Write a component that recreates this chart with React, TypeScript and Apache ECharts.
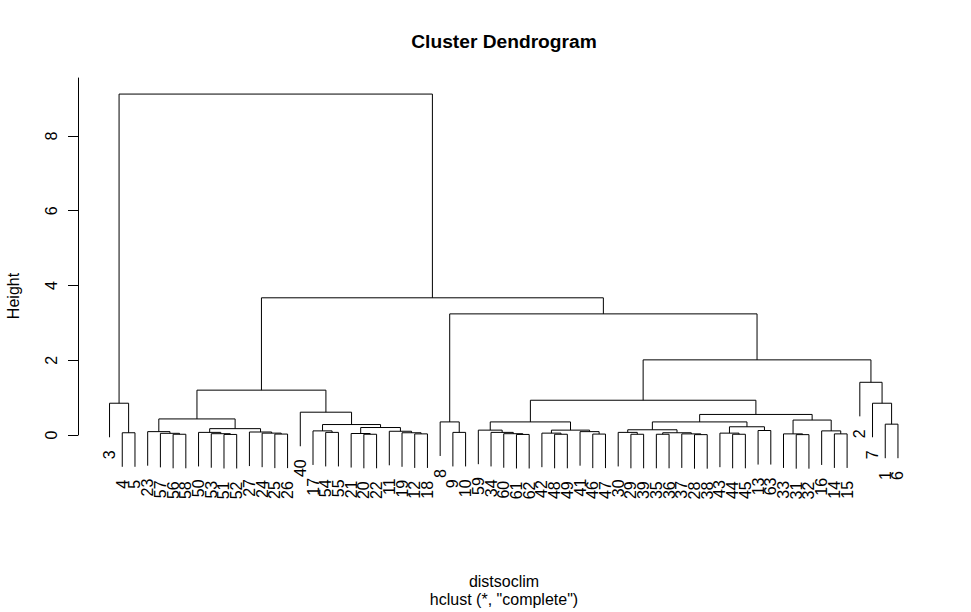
import React, { useEffect, useRef } from "react";
import * as echarts from "echarts";

// hclust merge matrix (R convention: negative = leaf label, positive = earlier merge index)
const mergeA = [-4, -3, -56, -57, -23, -51, -53, -50, -25, -24, -27, 8, 5, -54, -17, -20, -21, -12, -19, -11, 17, 15, -40, 13,
  -9, -8, -61, -60, -34, -59, -48, -42, -46, -41, 32, 30, -29, -30, -35, -28, -37, 39, 38, -44, -43, -13, 45, 43,
  -31, -33, -14, -16, 50, 48, 36, -1, -7, -2, 55, 26, 24, 2];
const mergeB = [-5, 1, -58, 3, 4, -52, 6, 7, -26, 9, 10, 11, 12, -55, 14, -22, 16, -18, 18, 19, 20, 21, 22, 23,
  -10, 25, -62, 27, 28, 29, -49, 31, -47, 33, 34, 35, -39, 37, -36, -38, 40, 41, 42, -45, 44, -63, 46, 47,
  -32, 49, -15, 51, 52, 53, 54, -6, 56, 57, 58, 59, 60, 61];
const mergeHeight = [0.06, 0.85, 0.02, 0.045, 0.09, 0.015, 0.035, 0.07, 0.025, 0.05, 0.08, 0.17, 0.43, 0.07, 0.11, 0.02, 0.04, 0.03, 0.06, 0.1, 0.2, 0.28, 0.61, 1.2,
  0.07, 0.35, 0.015, 0.035, 0.07, 0.13, 0.02, 0.05, 0.025, 0.09, 0.13, 0.35, 0.02, 0.07, 0.02, 0.01, 0.03, 0.06, 0.14, 0.02, 0.05, 0.12, 0.22, 0.35,
  0.01, 0.03, 0.03, 0.11, 0.4, 0.55, 0.93, 0.29, 0.85, 1.41, 2.01, 3.24, 3.67, 9.12];
const yTicks = [0, 2, 4, 6, 8];
const hangFraction = 0.1;

const FONT = '"Liberation Sans", Arial, Helvetica, sans-serif';

function buildTree() {
  const m = mergeA.length;
  const collect = (node: number): number[] =>
    node < 0 ? [-node] : [...collect(mergeA[node - 1]), ...collect(mergeB[node - 1])];
  const leafOrder = collect(m);
  const pos: Record<number, number> = {};
  leafOrder.forEach((lab, i) => (pos[lab] = i));
  const hMax = Math.max(...mergeHeight);
  const hMin = Math.min(...mergeHeight);
  const hang = hangFraction * (hMax - hMin);
  const mergeX: number[] = [];
  const segs: number[][] = [];
  const leaves: number[][] = [];
  const nodeX = (node: number) => (node < 0 ? pos[-node] : mergeX[node - 1]);
  for (let i = 0; i < m; i++) {
    const a = mergeA[i], b = mergeB[i], h = mergeHeight[i];
    const xa = nodeX(a), xb = nodeX(b);
    const ya = a < 0 ? h - hang : mergeHeight[a - 1];
    const yb = b < 0 ? h - hang : mergeHeight[b - 1];
    mergeX.push((xa + xb) / 2);
    segs.push([xa, ya, xb, yb, h]);
    if (a < 0) leaves.push([xa, h - hang, -a]);
    if (b < 0) leaves.push([xb, h - hang, -b]);
  }
  return { leafOrder, segs, leaves, n: leafOrder.length };
}

export default function App() {
  const ref = useRef<HTMLDivElement>(null);
  useEffect(() => {
    if (!ref.current) return;
    const chart = echarts.init(ref.current, undefined, { renderer: "svg" });
    const { segs, leaves, n } = buildTree();
    const pad = 0.04 * (n - 1);
    const option: any = {
      animation: false,
      backgroundColor: "#ffffff",
      grid: { left: 78, right: 41.5, top: 78, bottom: 177, containLabel: false },
      xAxis: { type: "value", min: -pad, max: n - 1 + pad, show: false },
      yAxis: {
        type: "value",
        min: 0,
        max: 9.55,
        interval: 2,
        splitLine: { show: false },
        axisLine: { show: true, onZero: false, lineStyle: { color: "#000", width: 1 } },
        axisTick: { show: true, length: 10, lineStyle: { color: "#000", width: 1 }, customValues: yTicks },
        axisLabel: {
          show: true,
          rotate: 90,
          margin: 19,
          color: "#000",
          fontSize: 16,
          fontFamily: FONT,
          customValues: yTicks,
          formatter: (v: number) => String(v),
        },
      },
      series: [
        {
          type: "custom",
          clip: false,
          silent: true,
          data: segs,
          renderItem: (params: any, api: any) => {
            const xa = api.value(0), ya = api.value(1), xb = api.value(2), yb = api.value(3), h = api.value(4);
            const p1 = api.coord([xa, ya]);
            const p2 = api.coord([xa, h]);
            const p3 = api.coord([xb, h]);
            const p4 = api.coord([xb, yb]);
            return {
              type: "polyline",
              shape: { points: [p1, p2, p3, p4] },
              style: { stroke: "#000", lineWidth: 1, fill: "none" },
            };
          },
        },
        {
          type: "custom",
          clip: false,
          silent: true,
          data: leaves,
          renderItem: (params: any, api: any) => {
            const p = api.coord([api.value(0), api.value(1)]);
            const label = String(leaves[params.dataIndex][2]);
            return {
              type: "text",
              x: p[0],
              y: p[1] + 13,
              rotation: Math.PI / 2,
              style: {
                text: label,
                fill: "#000",
                font: `16px ${FONT}`,
                align: "right",
                verticalAlign: "middle",
                textAlign: "right",
                textVerticalAlign: "middle",
              },
            };
          },
        },
      ],
      graphic: [
        {
          type: "text",
          x: 504,
          y: 41,
          style: {
            text: "Cluster Dendrogram",
            fill: "#000",
            font: `bold 19.2px ${FONT}`,
            align: "center",
            verticalAlign: "middle",
            textAlign: "center",
            textVerticalAlign: "middle",
          },
        },
        {
          type: "text",
          x: 504,
          y: 581,
          style: {
            text: "distsoclim",
            fill: "#000",
            font: `16px ${FONT}`,
            align: "center",
            verticalAlign: "middle",
            textAlign: "center",
            textVerticalAlign: "middle",
          },
        },
        {
          type: "text",
          x: 504,
          y: 599,
          style: {
            text: 'hclust (*, "complete")',
            fill: "#000",
            font: `16px ${FONT}`,
            align: "center",
            verticalAlign: "middle",
            textAlign: "center",
            textVerticalAlign: "middle",
          },
        },
        {
          type: "text",
          x: 13,
          y: 296,
          rotation: Math.PI / 2,
          style: {
            text: "Height",
            fill: "#000",
            font: `16px ${FONT}`,
            align: "center",
            verticalAlign: "middle",
            textAlign: "center",
            textVerticalAlign: "middle",
          },
        },
      ],
    };
    chart.setOption(option);
    return () => chart.dispose();
  }, []);
  return (
    <div
      ref={ref}
      style={{ position: "fixed", left: 0, top: 0, width: 971, height: 612, background: "#fff" }}
    />
  );
}
